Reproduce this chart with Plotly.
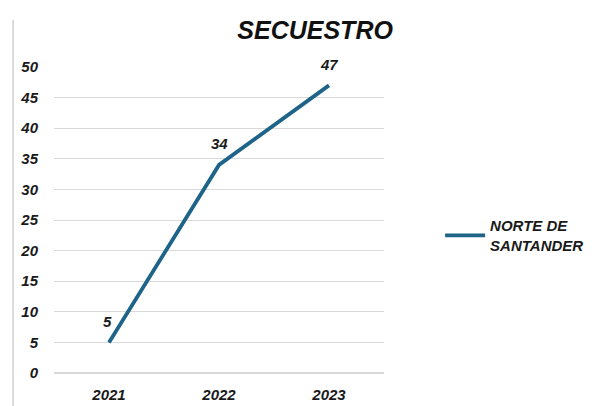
import plotly.graph_objects as go

years = ["2021", "2022", "2023"]
secuestro = [5, 34, 47]
serie = "NORTE DE<br>SANTANDER"

fig = go.Figure()

fig.add_trace(go.Scatter(
    x=years,
    y=secuestro,
    mode="lines",
    name="<b><i>" + serie + "</i></b>",
    showlegend=True,
    line=dict(color="#1d6488", width=3.8),
))

# la pagina pone 8px de margen al body, se compensa aqui
fig.update_layout(
    width=601,
    height=398,
    paper_bgcolor="white",
    plot_bgcolor="white",
    margin=dict(l=46, r=225, t=59, b=33),
    font=dict(family="Liberation Sans, Arial", color="#1a1a1a"),
    title=dict(
        text="<b><i>SECUESTRO</i></b>",
        x=0.511, xanchor="center",
        y=0.945, yanchor="middle",
        font=dict(size=25, color="#111111"),
    ),
    xaxis=dict(
        type="category",
        range=[-0.5, 2.5],
        showgrid=False,
        showline=False,
        zeroline=False,
        automargin=False,
        tickfont=dict(size=15),
        ticks="outside", ticklen=8, tickcolor="rgba(0,0,0,0)",
        tickprefix="<b><i>", ticksuffix="</i></b>",
    ),
    yaxis=dict(
        range=[0, 50],
        dtick=5,
        showgrid=True,
        gridcolor="#d9d9d9",
        gridwidth=1,
        zeroline=True,
        zerolinecolor="#d9d9d9",
        showline=False,
        automargin=False,
        tickfont=dict(size=15),
        ticks="outside", ticklen=12, tickcolor="rgba(0,0,0,0)",
        tickprefix="<b><i>", ticksuffix="</i></b>",
    ),
    showlegend=True,
    legend=dict(
        x=1.17, xanchor="left",
        y=0.45, yanchor="middle",
        font=dict(size=15),
        itemwidth=40,
    ),
    shapes=[dict(
        type="line", xref="paper", yref="paper",
        x0=-0.124, x1=-0.124, y0=-0.108, y1=1.154,
        line=dict(color="#d0d0d0", width=1.5),
    )],
)

# etiquetas de datos encima de cada punto
label_x_shift = [-2, 0, 0]
for i, (v, dx) in enumerate(zip(secuestro, label_x_shift)):
    fig.add_annotation(
        xref="x", yref="y",
        x=i, y=v, text="<b><i>" + str(v) + "</i></b>",
        showarrow=False, yshift=21, xshift=dx,
        font=dict(size=15, color="#1a1a1a"),
    )

fig.write_html("out.html")
